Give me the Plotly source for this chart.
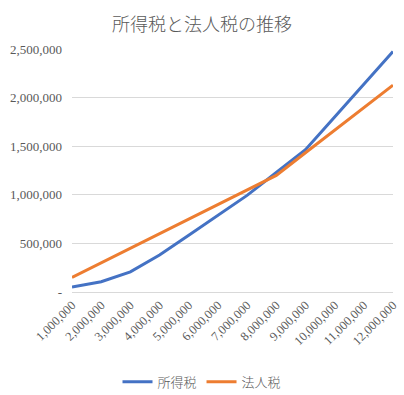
import plotly.graph_objects as go

categories = ["1,000,000", "2,000,000", "3,000,000", "4,000,000", "5,000,000", "6,000,000",
              "7,000,000", "8,000,000", "9,000,000", "10,000,000", "11,000,000", "12,000,000"]
income_tax = [51000, 105000, 207000, 380000, 585000, 789000, 994000, 1229000, 1464000,
              1801000, 2138000, 2475000]
corp_tax = [150000, 300000, 450000, 600000, 750000, 900000, 1050000, 1200000, 1432000,
            1664000, 1896000, 2128000]
y_ticks = [0, 500000, 1000000, 1500000, 2000000, 2500000]
y_ticktext = ["-", "500,000", "1,000,000", "1,500,000", "2,000,000", "2,500,000"]

fig = go.Figure()
fig.add_trace(go.Scatter(x=list(range(len(categories))), y=income_tax, mode="lines",
                         name="所得税", line=dict(color="#4472C4", width=3)))
fig.add_trace(go.Scatter(x=list(range(len(categories))), y=corp_tax, mode="lines",
                         name="法人税", line=dict(color="#ED7D31", width=3)))

fig.update_layout(
    width=404, height=395,
    margin=dict(l=72, r=11, t=49, b=103, autoexpand=False),
    paper_bgcolor="white", plot_bgcolor="white",
    title=dict(text="所得税と法人税の推移", x=0.5, xanchor="center", y=1 - 25 / 395, yanchor="middle",
               font=dict(family="Noto Sans CJK JP", size=18, color="#595959", weight=300)),
    showlegend=True,
    legend=dict(orientation="h", x=0.405, xanchor="center", y=-0.37, yanchor="middle",
                font=dict(family="Noto Sans CJK JP", size=13, color="#595959", weight=300)),
    xaxis=dict(tickmode="array", tickvals=list(range(len(categories))), ticktext=categories,
               tickangle=-45, range=[0, len(categories) - 1], showgrid=False, automargin=False,
               showline=True, linecolor="#D9D9D9", linewidth=1, ticks="",
               tickfont=dict(family="Liberation Serif", size=12.5, color="#595959"), zeroline=False),
    yaxis=dict(tickmode="array", tickvals=y_ticks, ticktext=y_ticktext, range=[0, 2500000],
               showgrid=True, gridcolor="#D9D9D9", gridwidth=1, zeroline=False, ticks="", automargin=False,
               tickfont=dict(family="Liberation Serif", size=13, color="#595959"), ticklabelstandoff=9),
)

fig.write_html("out.html", config={"displayModeBar": False},
               post_script="document.body.style.margin='0';document.body.style.overflow='hidden';")
